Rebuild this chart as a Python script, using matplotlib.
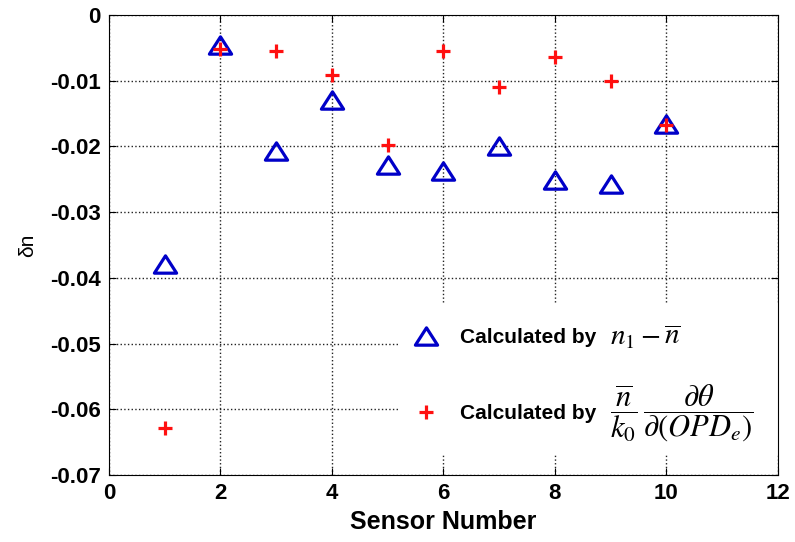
import numpy as np
import matplotlib.pyplot as plt
from matplotlib.path import Path
from matplotlib.patches import Rectangle

plt.rcParams['font.family'] = ['Liberation Sans', 'DejaVu Sans']
plt.rcParams['mathtext.fontset'] = 'stix'

# delta-n per sensor, two estimation methods
sensor = [1, 2, 3, 4, 5, 6, 7, 8, 9, 10]
dn_index = [-0.0379, -0.0046, -0.0207, -0.0130, -0.0229, -0.0237, -0.0199, -0.0251, -0.0257, -0.0166]
dn_phase = [-0.0629, -0.0051, -0.0055, -0.0092, -0.0198, -0.0055, -0.0110, -0.0064, -0.0100, -0.0167]

xticks = [0, 2, 4, 6, 8, 10, 12]
yticks = [0, -0.01, -0.02, -0.03, -0.04, -0.05, -0.06, -0.07]
ytick_labels = ['0', '-0.01', '-0.02', '-0.03', '-0.04', '-0.05', '-0.06', '-0.07']

label_text = 'Calculated by'
formulas = [r'$n_1-\overline{n}$',
            r'$\dfrac{\overline{n}}{k_0}\,\dfrac{\partial\theta}{\partial\left(OPD_e\right)}$']
formula_sizes = [21, 22]

# flat open triangle, wider than tall
tri = Path([(-1, -0.78), (1, -0.78), (0, 0.78), (-1, -0.78)],
           [Path.MOVETO, Path.LINETO, Path.LINETO, Path.CLOSEPOLY])

fig = plt.figure(figsize=(7.95, 5.42), dpi=100)
ax = fig.add_axes([0.137, 0.1236, 0.8415, 0.8487])

ax.plot(sensor, dn_index, linestyle='none', marker=tri, markersize=16,
        markerfacecolor='none', markeredgecolor='#0000c8', markeredgewidth=2.3,
        label=label_text, zorder=3)
ax.plot(sensor, dn_phase, linestyle='none', marker='+', markersize=10,
        markeredgecolor='#ff1010', markeredgewidth=2.3,
        label=label_text, zorder=4)

ax.set_xlim(0, 12)
ax.set_ylim(-0.07, 0)
ax.set_xticks(xticks)
ax.set_xticklabels([str(t) for t in xticks], fontsize=16, fontweight='bold')
ax.set_yticks(yticks)
ax.set_yticklabels(ytick_labels, fontsize=16, fontweight='bold')
ax.tick_params(direction='in', top=True, right=True, length=5, width=0.8, pad=6)
ax.grid(True, linestyle=':', color='#222222', linewidth=1.0)
ax.set_axisbelow(True)
for s in ax.spines.values():
    s.set_linewidth(0.8)

ax.set_xlabel('Sensor Number', fontsize=18, fontweight='bold', labelpad=4)
ax.set_ylabel('δn', fontsize=15, labelpad=9)

# white block behind the legend hides the grid there
ax.add_patch(Rectangle((0.435, 0.043), 0.565, 0.33, transform=ax.transAxes,
                       facecolor='white', edgecolor='none', zorder=1))

leg = ax.legend(loc='upper left', bbox_to_anchor=(0.451, 0.32), frameon=False,
                prop={'size': 15, 'weight': 'bold'}, borderpad=0, borderaxespad=0,
                handlelength=1.5, handletextpad=0.86, labelspacing=2.75)

# formulas sit right of each legend entry, larger than the label text
fig.canvas.draw()
inv = ax.transAxes.inverted()
for t, f, fs in zip(leg.get_texts(), formulas, formula_sizes):
    bb = t.get_window_extent()
    yc = inv.transform((0, (bb.y0 + bb.y1) / 2))[1]
    ax.text(0.749, yc, f, transform=ax.transAxes, fontsize=fs,
            ha='left', va='center', zorder=6)

fig.savefig('out.png', dpi=100)
